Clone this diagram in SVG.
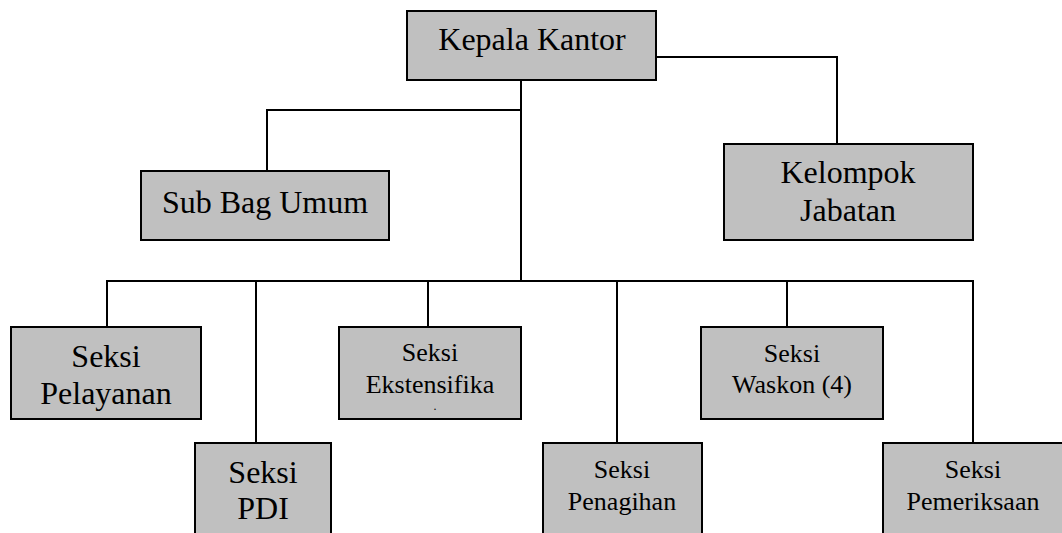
<svg xmlns="http://www.w3.org/2000/svg" width="1062" height="533" viewBox="0 0 1062 533">
<style>
.box{fill:#c0c0c0;stroke:#000;stroke-width:2}
.lg{font-size:32px}
.sm{font-size:26px}
.dot{font-size:12px}
.ln{fill:none;stroke:#000;stroke-width:2}
</style>
<rect width="1062" height="533" fill="#fff"/>
<g id="connectors">
<path class="ln" d="M521,80 V281"/>
<path class="ln" d="M521,110 H267 V171"/>
<path class="ln" d="M656,57 H837 V144"/>
<path class="ln" d="M107,327 V281 H973 V443"/>
<path class="ln" d="M256,281 V443"/>
<path class="ln" d="M428,281 V327"/>
<path class="ln" d="M617,281 V443"/>
<path class="ln" d="M787,281 V327"/>
</g>
<g font-family="Liberation Serif, Times New Roman, DejaVu Serif, serif" fill="#000" text-anchor="middle">
<g id="kepala">
<rect class="box" x="407" y="11" width="249" height="69"/>
<text class="lg" x="532" y="50">Kepala Kantor</text>
</g>
<g id="subbag">
<rect class="box" x="141" y="171" width="248" height="69"/>
<text class="lg" x="265" y="213">Sub Bag Umum</text>
</g>
<g id="kelompok">
<rect class="box" x="724" y="144" width="249" height="96"/>
<text class="lg" x="848" y="183">Kelompok</text>
<text class="lg" x="848" y="221">Jabatan</text>
</g>
<g id="pelayanan">
<rect class="box" x="11" y="327" width="190" height="92"/>
<text class="lg" x="106" y="367">Seksi</text>
<text class="lg" x="106" y="404">Pelayanan</text>
</g>
<g id="pdi">
<rect class="box" x="195" y="443" width="136" height="100"/>
<text class="lg" x="263" y="483">Seksi</text>
<text class="lg" x="263" y="519">PDI</text>
</g>
<g id="ekstensifikasi">
<rect class="box" x="339" y="327" width="182" height="92"/>
<text class="sm" x="430" y="361">Seksi</text>
<text class="sm" x="430" y="393">Ekstensifika</text>
<text class="dot" x="435" y="410">.</text>
</g>
<g id="penagihan">
<rect class="box" x="543" y="443" width="159" height="100"/>
<text class="sm" x="622" y="478">Seksi</text>
<text class="sm" x="622" y="510">Penagihan</text>
</g>
<g id="waskon">
<rect class="box" x="701" y="327" width="182" height="92"/>
<text class="sm" x="792" y="362">Seksi</text>
<text class="sm" x="792" y="393">Waskon (4)</text>
</g>
<g id="pemeriksaan">
<rect class="box" x="883" y="443" width="190" height="100"/>
<text class="sm" x="973" y="478">Seksi</text>
<text class="sm" x="973" y="510">Pemeriksaan</text>
</g>
</g>
</svg>
